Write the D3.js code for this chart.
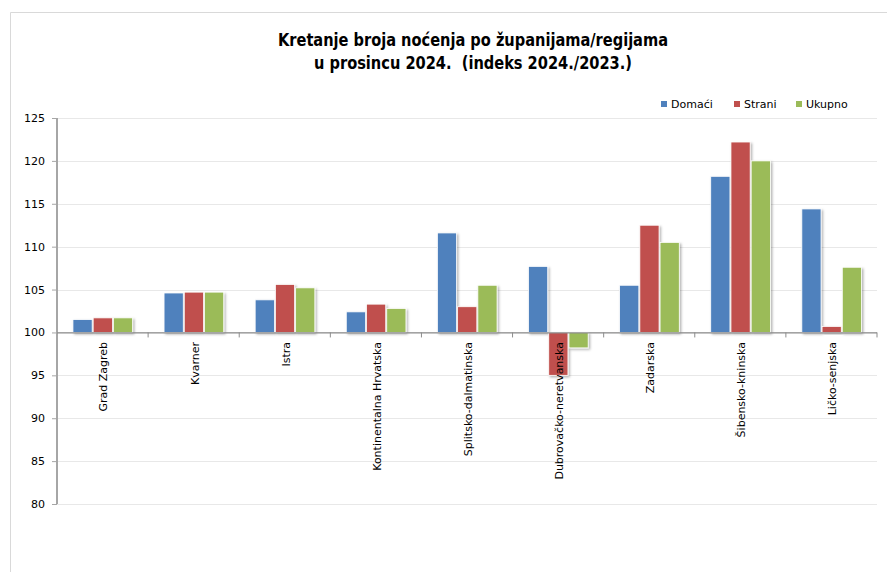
<!DOCTYPE html>
<html>
<head>
<meta charset="utf-8">
<script src="https://cdn.jsdelivr.net/npm/d3@7"></script>
<style>
  html, body { margin: 0; padding: 0; background: #fff; }
  svg { display: block; }
  .title { white-space: pre; }
</style>
</head>
<body>
<div id="chart"></div>
<script>
const categories = ["Grad Zagreb", "Kvarner", "Istra", "Kontinentalna Hrvatska", "Splitsko-dalmatinska",
  "Dubrovačko-neretvanska", "Zadarska", "Šibensko-kninska", "Ličko-senjska"];
const seriesNames = ["Domaći", "Strani", "Ukupno"];
const domaci = [101.5, 104.6, 103.8, 102.4, 111.6, 107.7, 105.5, 118.2, 114.4];
const strani = [101.7, 104.7, 105.6, 103.3, 103.0, 95.0, 112.5, 122.2, 100.7];
const ukupno = [101.7, 104.7, 105.2, 102.8, 105.5, 98.2, 110.5, 120.0, 107.6];
const yTicks = [80, 85, 90, 95, 100, 105, 110, 115, 120, 125];
const titleLines = ["Kretanje broja noćenja po županijama/regijama", "u prosincu 2024.  (indeks 2024./2023.)"];
const colors = ["#4F81BD", "#C0504D", "#9BBB59"];

const values = [domaci, strani, ukupno];
const W = 887, H = 572;
const svg = d3.select("#chart").append("svg").attr("width", W).attr("height", H);

const defs = svg.append("defs");
const f = defs.append("filter").attr("id", "sh").attr("x", "-20%").attr("y", "-20%").attr("width", "150%").attr("height", "150%");
f.append("feDropShadow").attr("dx", 1.5).attr("dy", 1.5).attr("stdDeviation", 1.2)
  .attr("flood-color", "#000").attr("flood-opacity", 0.3);

// frame
svg.append("path").attr("d", "M10.5,572 L10.5,12.5 L887,12.5").attr("fill", "none")
  .attr("stroke", "#d9d9d9").attr("stroke-width", 1);

const x0 = 57, x1 = 877;
const y = d3.scaleLinear().domain([80, 125]).range([504, 118]);
const x = d3.scaleBand().domain(categories).range([x0, x1]).paddingInner(0).paddingOuter(0);
const step = x.bandwidth();
const xs = d3.scaleBand().domain(seriesNames).range([step * 0.175, step * 0.83]).paddingInner(0.05);

// gridlines
svg.append("g").selectAll("line").data(yTicks).join("line")
  .attr("x1", x0).attr("x2", x1)
  .attr("y1", d => Math.round(y(d)) + 0.5).attr("y2", d => Math.round(y(d)) + 0.5)
  .attr("stroke", "#e8e8e8").attr("stroke-width", 1);

// title
const titleWidths = [390, 318];
svg.append("g").selectAll("text").data(titleLines).join("text")
  .attr("class", "title")
  .attr("x", 473).attr("y", (d, i) => 46 + i * 23)
  .attr("text-anchor", "middle")
  .attr("font-family", "'DejaVu Sans Condensed', 'Liberation Sans Narrow', sans-serif")
  .attr("font-weight", "bold").attr("font-size", 17.5).attr("fill", "#000")
  .attr("textLength", (d, i) => titleWidths[i]).attr("lengthAdjust", "spacingAndGlyphs")
  .text(d => d);

// bars
const base = y(100);
const gBars = svg.append("g");
categories.forEach((c, ci) => {
  seriesNames.forEach((s, si) => {
    const v = values[si][ci];
    const yy = y(v);
    gBars.append("rect")
      .attr("x", x(c) + xs(s))
      .attr("y", Math.min(yy, base))
      .attr("width", xs.bandwidth())
      .attr("height", Math.abs(yy - base))
      .attr("fill", colors[si])
      .attr("stroke", "#fff").attr("stroke-width", 0.8)
      .attr("filter", "url(#sh)");
  });
});

// y axis
const yAxis = d3.axisLeft(y).tickValues(yTicks).tickSize(5).tickPadding(7).tickFormat(d3.format("d"));
const gy = svg.append("g").attr("transform", `translate(${x0},0)`).call(yAxis);
gy.select(".domain").attr("stroke", "#a6a6a6").attr("stroke-width", 2).attr("d", `M0,${y(125)}V${y(80)}`);
gy.selectAll(".tick line").attr("stroke", "#a6a6a6");
gy.selectAll(".tick text").attr("font-family", "'DejaVu Sans', sans-serif").attr("font-size", 11).attr("fill", "#000");

// x axis at 100
const bounds = categories.map(c => x(c) + step);
svg.append("line").attr("x1", x0).attr("x2", x1).attr("y1", base + 0.5).attr("y2", base + 0.5)
  .attr("stroke", "#8c8c8c").attr("stroke-width", 1.2);
svg.append("g").selectAll("line").data(bounds).join("line")
  .attr("x1", d => d).attr("x2", d => d).attr("y1", base).attr("y2", base + 5)
  .attr("stroke", "#8c8c8c");

// category labels
svg.append("g").selectAll("text").data(categories).join("text")
  .attr("transform", d => `translate(${x(d) + step / 2 + 1},342) rotate(-90)`)
  .attr("text-anchor", "end").attr("dy", "0.35em")
  .attr("font-family", "'DejaVu Sans', sans-serif").attr("font-size", 11).attr("fill", "#000")
  .text(d => d);

// legend
const legX = [661, 734, 796];
const lg = svg.append("g");
seriesNames.forEach((s, i) => {
  lg.append("rect").attr("x", legX[i]).attr("y", 101).attr("width", 6).attr("height", 6).attr("fill", colors[i]);
  lg.append("text").attr("x", legX[i] + 10).attr("y", 104).attr("dy", "0.35em")
    .attr("font-family", "'DejaVu Sans', sans-serif").attr("font-size", 11).attr("fill", "#000").text(s);
});
</script>
</body>
</html>
